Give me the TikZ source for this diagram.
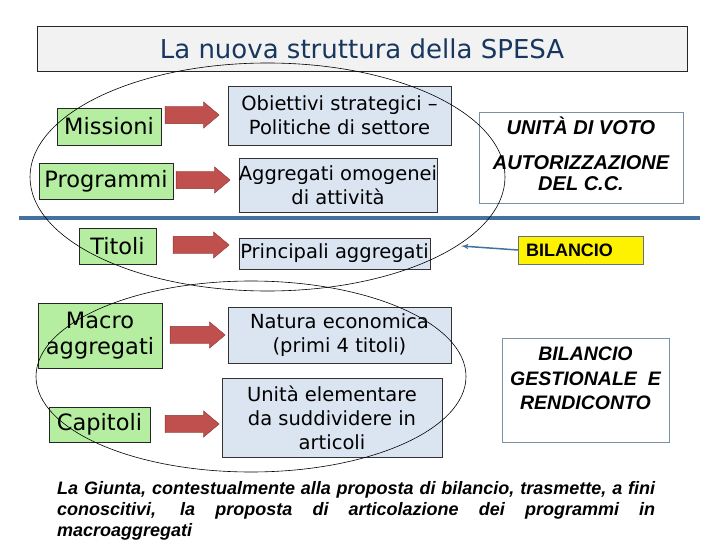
\documentclass[tikz,border=0pt]{standalone}
\usepackage{fontspec}
\setmainfont{DejaVu Sans}
\newfontfamily\arialfont{Liberation Sans}
\usetikzlibrary{shapes,arrows,positioning}

\definecolor{titlegray}{RGB}{242,242,242}
\definecolor{titleblue}{RGB}{23,55,94}
\definecolor{boxgreen}{RGB}{181,238,160}
\definecolor{boxblue}{RGB}{219,229,241}
\definecolor{arrowred}{RGB}{192,80,77}
\definecolor{arrowborder}{RGB}{140,56,52}
\definecolor{steelline}{RGB}{68,114,160}
\definecolor{boxframe}{RGB}{120,145,165}

\begin{document}
\begin{tikzpicture}[x=1pt,y=-1pt,
  greenbox/.style={rectangle,draw=black!85,fill=boxgreen,inner sep=0pt,align=center,font=\fontsize{22.5}{26}\selectfont},
  bluebox/.style={rectangle,draw=black!80,fill=boxblue,inner sep=0pt,align=center,font=\fontsize{19.5}{24}\selectfont},
  fatarrow/.style={single arrow,draw=arrowborder,fill=arrowred,inner sep=0pt,text height=8.5pt,text depth=8.5pt,
    single arrow head extend=4.5pt,single arrow tip angle=80,single arrow head indent=0pt},
  rightbox/.style={rectangle,draw=boxframe,fill=white,inner sep=0pt},
  righttext/.style={inner sep=0pt,align=center,font=\arialfont\bfseries\itshape\fontsize{20}{21.5}\selectfont},
  ringline/.style={draw=black,line width=0.6pt}]
  \path[fill=white,use as bounding box] (0,0) rectangle (720,540);

  \node[rectangle,draw=black!85,fill=titlegray,minimum width=650pt,minimum height=45pt,inner sep=0pt,
    text=titleblue,font=\fontsize{26}{30}\selectfont] (title) at (362,48.5) {La nuova struttura della SPESA};

  \node[greenbox,minimum width=104pt,minimum height=37pt] (missioni) at (109,126.5) {Missioni};
  \node[greenbox,minimum width=134pt,minimum height=36pt] (programmi) at (106,181) {Programmi};
  \node[greenbox,minimum width=77pt,minimum height=36pt] (titoli) at (117.5,246) {Titoli};
  \node[greenbox,minimum width=124pt,minimum height=65pt] (macro) at (100,335.5) {Macro\\aggregati};
  \node[greenbox,minimum width=101pt,minimum height=35pt] (capitoli) at (99.5,424.5) {Capitoli};

  \node[fatarrow,minimum height=54pt] (arr1) at (187,115) {};
  \node[fatarrow,minimum height=54pt] (arr2) at (198,180) {};
  \node[fatarrow,minimum height=56pt] (arr3) at (196,245) {};
  \node[fatarrow,minimum height=55pt] (arr4) at (192.5,335) {};
  \node[fatarrow,minimum height=54pt] (arr5) at (187,424) {};

  \node[bluebox,minimum width=223pt,minimum height=59pt] (obiettivi) at (339.5,115.5) {Obiettivi strategici --\\Politiche di settore};
  \node[bluebox,minimum width=198pt,minimum height=54pt] (omogenei) at (338,185) {Aggregati omogenei\\di attività};
  \node[bluebox,minimum width=191pt,minimum height=31pt] (principali) at (334.5,253.5) {Principali aggregati};
  \node[bluebox,minimum width=223pt,minimum height=56pt] (natura) at (339.5,335) {Natura economica\\(primi 4 titoli)};
  \node[bluebox,minimum width=220pt,minimum height=79pt] (elementare) at (332,417.5) {Unità elementare\\da suddividere in\\articoli};

  \draw[steelline,line width=3.5pt] (19,218) -- (700,218);

  \node[rightbox,minimum width=204pt,minimum height=91pt] (voto) at (581,157.5) {};
  \node[righttext,below=5pt of voto.north] (vototext) {UNITÀ DI VOTO\\[13pt]AUTORIZZAZIONE\\DEL C.C.};
  \node[rectangle,draw=boxframe!80!black,fill=yellow,minimum width=125pt,minimum height=28pt,inner xsep=8pt,
    text width=109pt,align=left,font=\arialfont\bfseries\fontsize{18}{20}\selectfont] (bilancio) at (580.5,250) {BILANCIO};
  \node[rightbox,minimum width=167pt,minimum height=104pt] (gestionale) at (585.5,390) {};
  \node[righttext,font=\arialfont\bfseries\itshape\fontsize{19.5}{24.5}\selectfont,below=9pt of gestionale.north] (gesttext)
    {BILANCIO\\GESTIONALE\ \ E\\RENDICONTO};

  \node[anchor=north west,inner sep=0pt,text width=598pt,align=justify,
    font=\arialfont\bfseries\itshape\fontsize{18}{21}\selectfont] (giunta) at (57,481.5)
    {La Giunta, contestualmente alla proposta di bilancio, trasmette, a fini\linebreak
     conoscitivi, la proposta di articolazione dei programmi in\linebreak macroaggregati};

  \draw[ringline] (267.5,177) ellipse [x radius=237.5,y radius=114];
  \draw[ringline] (251,376.5) ellipse [x radius=215,y radius=95.5];

  \coordinate (bilend) at (461,246);
  \path[draw,-latex',steelline,line width=1.5pt] (bilancio.west) -- (bilend);
\end{tikzpicture}
\end{document}
